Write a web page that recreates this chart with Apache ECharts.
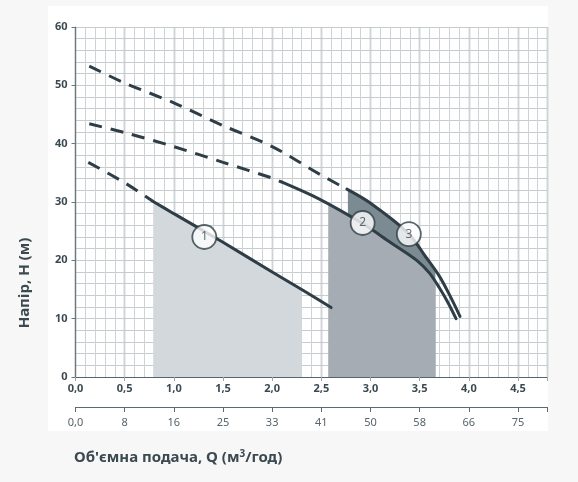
<!DOCTYPE html>
<html>
<head>
<meta charset="utf-8">
<script src="https://cdn.jsdelivr.net/npm/echarts@6/dist/echarts.min.js"></script>
<style>
  html, body { margin: 0; padding: 0; background: #f7f7f7; }
  #chart { width: 578px; height: 482px; }
</style>
</head>
<body>
<div id="chart"></div>
<script>
// криві: [Q, H]
const curve1Dash = [[0.13, 36.8], [0.5, 33.3], [0.79, 30.1]];
const curve1 = [[0.79, 30.1], [1.0, 28.0], [1.5, 23.1], [2.0, 18.0], [2.3, 15.0], [2.6, 11.9]];
const curve2Dash = [[0.14, 43.4], [0.5, 41.9], [1.0, 39.5], [1.5, 36.8], [2.0, 34.1], [2.1, 33.4]];
const curve2 = [[2.1, 33.4], [2.48, 30.5], [2.92, 26.3], [3.2, 23.1], [3.47, 20.0], [3.6, 17.8], [3.7, 15.3], [3.79, 12.7], [3.87, 10.0]];
const curve3Dash = [[0.14, 53.3], [0.5, 50.4], [1.0, 47.0], [1.5, 43.1], [2.0, 39.5], [2.5, 34.6], [2.76, 32.2]];
const curve3 = [[2.76, 32.2], [2.99, 29.9], [3.38, 24.7], [3.57, 20.4], [3.7, 17.3], [3.8, 14.2], [3.91, 10.4]];

// робочі зони (заливка)
const zone1 = [[0.79, 30.1], [1.0, 28.0], [1.5, 23.1], [2.0, 18.0], [2.3, 15.0]];
const zone2 = [[2.57, 29.7], [2.92, 26.3], [3.2, 23.1], [3.47, 20.0], [3.6, 17.8], [3.66, 16.3]];
const zone3 = [[2.77, 32.1], [2.99, 29.9], [3.38, 24.7], [3.57, 20.4], [3.66, 18.3]];

const markers = [[1.31, 24.0, '1'], [2.92, 26.4, '2'], [3.39, 24.5, '3']];

const qTicks = [0, 0.5, 1.0, 1.5, 2.0, 2.5, 3.0, 3.5, 4.0, 4.5];
const qLabels2 = ['0,0', '8', '16', '25', '33', '41', '50', '58', '66', '75'];

const dark = '#2f3e46';
const txt = '#3b4950';

const chart = echarts.init(document.getElementById('chart'));

function zoneSeries(data, color, z) {
  return {
    type: 'line', data: data, smooth: 0.3, symbol: 'none', z: z,
    lineStyle: { width: 0 },
    areaStyle: { color: color, opacity: 1, origin: 'start' },
    silent: true
  };
}
function curveSeries(data, dashed) {
  return {
    type: 'line', data: data, smooth: 0.3, symbol: 'none', z: 5,
    lineStyle: { color: dark, width: 3, type: dashed ? [13, 9] : 'solid', cap: dashed ? 'butt' : 'round' },
    silent: true
  };
}

chart.setOption({
  backgroundColor: '#f7f7f7',
  animation: false,
  graphic: [
    { type: 'rect', z: -100, shape: { x: 48, y: 6, width: 500, height: 425 }, style: { fill: '#ffffff' } },
    {
      type: 'text', x: 25, y: 283, rotation: Math.PI / 2,
      style: { text: 'Напір, Н (м)', font: 'bold 15px "Noto Sans"', fill: txt, align: 'center', verticalAlign: 'middle' }
    },
    {
      type: 'text', x: 74, y: 458,
      style: {
        text: '{a|Об\'ємна подача, Q (м}{s|3}{a|/год)}',
        verticalAlign: 'middle',
        rich: {
          a: { font: 'bold 15px "Noto Sans"', fill: txt, color: txt },
          s: { font: 'bold 10px "Noto Sans"', fill: txt, color: txt, verticalAlign: 'top', padding: [0, 0, 8, 0] }
        }
      }
    }
  ],
  grid: { left: 75.5, right: 30.5, top: 27, bottom: 105, containLabel: false },
  xAxis: [
    {
      type: 'value', min: 0, max: 4.8, interval: 0.5, position: 'bottom',
      axisLine: { show: true, lineStyle: { color: '#56646b', width: 1.2 } },
      axisTick: { show: true, length: 4, lineStyle: { color: '#9aa4aa' } },
      axisLabel: {
        color: txt, fontWeight: 'bold', fontSize: 11, fontFamily: 'Noto Sans', margin: 6,
        formatter: v => (v > 4.6 ? '' : v.toFixed(1).replace('.', ','))
      },
      splitLine: { show: true, lineStyle: { color: '#9aa4aa', width: 1.4 } }
    },
    {
      type: 'value', min: 0, max: 4.8, interval: 0.1, position: 'top',
      axisLine: { show: false }, axisTick: { show: false }, axisLabel: { show: false },
      splitLine: { show: true, lineStyle: { color: '#cdd3d6', width: 1 } }
    },
    {
      type: 'value', min: 0, max: 4.8, interval: 0.5, position: 'bottom', offset: 30,
      axisLine: { show: true, lineStyle: { color: '#5d6a71', width: 1.2 } },
      axisTick: { show: true, length: 5, lineStyle: { color: '#5d6a71' } },
      axisLabel: {
        color: '#56646b', fontSize: 11, fontFamily: 'Noto Sans', margin: 10,
        formatter: v => {
          const i = qTicks.findIndex(t => Math.abs(t - v) < 1e-6);
          return i >= 0 ? qLabels2[i] : '';
        }
      },
      splitLine: { show: false }
    }
  ],
  yAxis: [
    {
      type: 'value', min: 0, max: 60, interval: 10, position: 'left',
      axisLine: { show: true, lineStyle: { color: '#6a777e', width: 1.2 } },
      axisTick: { show: true, length: 4, lineStyle: { color: '#6a777e' } },
      axisLabel: { color: txt, fontWeight: 'bold', fontSize: 11, fontFamily: 'Noto Sans', margin: 8 },
      splitLine: { show: true, lineStyle: { color: '#6f7c83', width: 1.2 } }
    },
    {
      type: 'value', min: 0, max: 60, interval: 2, position: 'right',
      axisLine: { show: false }, axisTick: { show: false }, axisLabel: { show: false },
      splitLine: { show: true, lineStyle: { color: '#c6cdd1', width: 1 } }
    }
  ],
  series: [
    zoneSeries(zone1, '#d3d8dc', 1),
    zoneSeries(zone3, '#7c8b92', 1),
    zoneSeries(zone2, '#a6acb4', 2),
    curveSeries(curve1Dash, true),
    curveSeries(curve1, false),
    curveSeries(curve2Dash, true),
    curveSeries(curve2, false),
    curveSeries(curve3Dash, true),
    curveSeries(curve3, false),
    {
      type: 'scatter', z: 10, symbol: 'circle', symbolSize: 24,
      data: markers.map(m => ({ value: [m[0], m[1]], name: m[2] })),
      itemStyle: { color: '#ffffff', borderColor: dark, borderWidth: 1.8 },
      label: { show: true, position: 'inside', formatter: p => p.name, color: txt, fontSize: 12, fontFamily: 'Noto Sans' },
      silent: true
    }
  ]
});
</script>
</body>
</html>
